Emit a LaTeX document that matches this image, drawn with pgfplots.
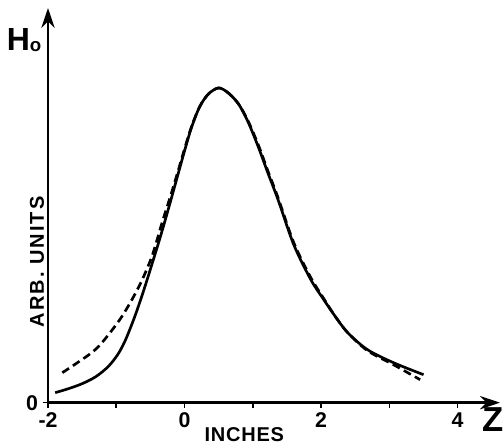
\documentclass[border=0pt]{standalone}
\usepackage{fontspec}
\setmainfont{Liberation Sans}
\usepackage{pgfplots}
\pgfplotsset{compat=1.18}
\usetikzlibrary{arrows.meta}

\begin{document}
\begin{tikzpicture}
\begin{axis}[
  scale only axis,
  width=339pt, height=296pt,
  xmin=-2, xmax=4.62, ymin=0, ymax=3.95,
  axis lines=left,
  axis line style={line width=2pt, -{Stealth[length=15pt,width=10pt]}},
  xtick={-2,-1,0,1,2,3,4},
  xticklabels={-2,,0,,2,,4},
  ytick={0}, yticklabels={0},
  tick style={line width=1.2pt, black},
  major tick length=4pt,
  tick align=outside,
  ticklabel style={font=\bfseries\fontsize{16}{16}\selectfont},
  clip=false,
]
% solid curve
\addplot[black, line width=2pt, smooth] coordinates {
  (-1.895,0.10) (-1.70,0.14) (-1.50,0.19) (-1.30,0.26) (-1.12,0.36)
  (-0.98,0.48) (-0.87,0.62) (-0.73,0.86) (-0.60,1.12) (-0.48,1.38)
  (-0.35,1.67) (-0.22,1.98) (-0.09,2.30) (0.00,2.52) (0.10,2.75)
  (0.22,2.96) (0.35,3.09) (0.50,3.15) (0.64,3.10) (0.79,2.99)
  (0.93,2.81) (1.08,2.56) (1.22,2.30) (1.37,2.03) (1.60,1.58)
  (1.85,1.23) (2.04,1.03) (2.20,0.87) (2.39,0.70) (2.68,0.53)
  (3.06,0.40) (3.50,0.28)
};
% dashed curve
\addplot[black, line width=2pt, smooth, dash pattern=on 6pt off 3.5pt] coordinates {
  (-1.79,0.30) (-1.40,0.48) (-1.21,0.60) (-0.92,0.86) (-0.67,1.16)
  (-0.48,1.46) (-0.33,1.80) (-0.20,2.08) (-0.09,2.33) (0.00,2.54)
  (0.10,2.76) (0.22,2.96) (0.35,3.09) (0.50,3.15) (0.64,3.10)
  (0.79,2.99) (0.93,2.82) (1.08,2.58) (1.22,2.32) (1.37,2.05)
  (1.60,1.60) (1.85,1.25) (2.04,1.04) (2.20,0.87) (2.39,0.70)
  (2.68,0.52) (3.06,0.38) (3.45,0.23)
};
\node[font=\bfseries\fontsize{24}{24}\selectfont] at (axis cs:-2.35,3.63)
  {H\raisebox{-1pt}{\fontsize{14}{14}\selectfont o}};
\node[font=\bfseries\fontsize{26}{26}\selectfont] at (axis cs:4.52,-0.17) {Z};
\node[font=\bfseries\fontsize{15}{15}\selectfont\addfontfeature{LetterSpace=4}]
  at (axis cs:0.875,-0.32) {INCHES};
\node[rotate=90, font=\bfseries\fontsize{15}{15}\selectfont\addfontfeature{LetterSpace=10}]
  at (axis cs:-2.16,1.41) {ARB.\ UNITS};
\coordinate (ll) at (rel axis cs:0,0);
\coordinate (ur) at (rel axis cs:1,1);
\end{axis}
\pgfresetboundingbox
\path[use as bounding box] ([xshift=-36pt,yshift=-32.25pt]ll) rectangle ([xshift=3pt,yshift=6pt]ur);
\end{tikzpicture}
\end{document}
